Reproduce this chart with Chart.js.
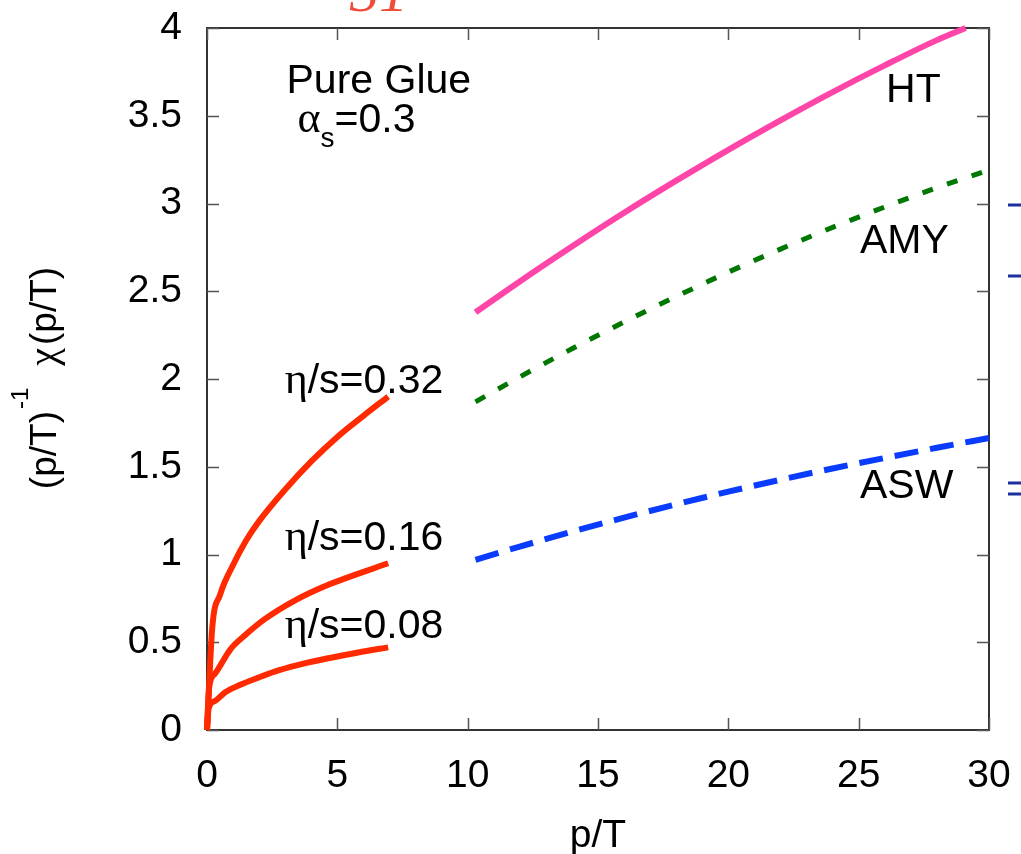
<!DOCTYPE html>
<html>
<head>
<meta charset="utf-8">
<script src="https://cdn.jsdelivr.net/npm/chart.js@4.4.1/dist/chart.umd.min.js"></script>
<style>
  html, body { margin: 0; padding: 0; background: #fff; }
  #wrap { width: 1021px; height: 854px; }
</style>
</head>
<body>
<div id="wrap"><canvas id="chart" width="1021" height="854"></canvas></div>
<script>
// axis ticks
const xTicks = [0, 5, 10, 15, 20, 25, 30];
const yTicks = [0, 0.5, 1, 1.5, 2, 2.5, 3, 3.5, 4];
const yTickLabels = ['0', '0.5', '1', '1.5', '2', '2.5', '3', '3.5', '4'];

// eta/s curves (red)
const eta032X = [0, 0.2, 0.5, 1, 1.5, 2, 3, 4, 5, 6, 6.95];
const eta032Y = [0, 0.58, 0.77, 0.94, 1.08, 1.19, 1.37, 1.53, 1.67, 1.79, 1.90];
const eta016X = [0, 0.08, 0.3, 0.9, 1.5, 2.2, 3.4, 4.7, 6.95];
const eta016Y = [0, 0.24, 0.32, 0.46, 0.545, 0.63, 0.74, 0.83, 0.95];
const eta008X = [0, 0.06, 0.3, 0.7, 1.25, 2, 2.8, 3.7, 4.7, 5.8, 6.95];
const eta008Y = [0, 0.12, 0.165, 0.215, 0.256, 0.30, 0.342, 0.378, 0.41, 0.442, 0.471];

// HT, AMY, ASW
const htX  = [10.3, 12, 14, 16, 18, 20, 22, 24, 26, 28, 29.1];
const htY  = [2.38, 2.556, 2.755, 2.947, 3.130, 3.306, 3.474, 3.635, 3.787, 3.931, 4.00];
const amyX = [10.3, 12, 14, 16, 18, 20, 22, 24, 26, 28, 30];
const amyY = [1.87, 2.012, 2.172, 2.325, 2.470, 2.609, 2.740, 2.864, 2.980, 3.090, 3.191];
const aswX = [10.3, 12, 14, 16, 18, 20, 22, 24, 26, 28, 30];
const aswY = [0.97, 1.045, 1.13, 1.21, 1.286, 1.358, 1.426, 1.49, 1.55, 1.608, 1.664];

const SANS = '"Liberation Sans", Arial, Helvetica, sans-serif';
const SERIF = '"Liberation Serif", "Times New Roman", serif';

function pts(xs, ys) { return xs.map((x, i) => ({ x: x, y: ys[i] })); }

function curve(xs, ys, color, width, dash) {
  return {
    data: pts(xs, ys), showLine: true, pointRadius: 0, borderColor: color,
    borderWidth: width, borderDash: dash || [], fill: false,
    cubicInterpolationMode: 'monotone', clip: false, borderCapStyle: 'butt'
  };
}

// draw text made of pieces (sub/superscripts, greek in serif)
function rich(ctx, x, y, parts) {
  parts.forEach(p => {
    ctx.font = p.f;
    ctx.fillText(p.t, x, y + (p.dy || 0));
    x += ctx.measureText(p.t).width + (p.gap || 0);
  });
}
function richWidth(ctx, parts) {
  let w = 0;
  parts.forEach(p => { ctx.font = p.f; w += ctx.measureText(p.t).width + (p.gap || 0); });
  return w;
}

const decor = {
  id: 'decor',
  beforeDatasetsDraw(chart) {
    const { ctx, chartArea: a, scales: { x, y } } = chart;
    ctx.save();
    ctx.strokeStyle = '#333';
    ctx.lineWidth = 2;
    ctx.strokeRect(a.left, a.top, a.right - a.left, a.bottom - a.top);
    ctx.lineWidth = 1.5;
    ctx.strokeStyle = '#555';
    ctx.beginPath();
    xTicks.forEach(v => {
      const px = Math.round(x.getPixelForValue(v)) + 0.5;
      ctx.moveTo(px, a.bottom); ctx.lineTo(px, a.bottom - 12);
      ctx.moveTo(px, a.top); ctx.lineTo(px, a.top + 12);
    });
    yTicks.forEach(v => {
      const py = Math.round(y.getPixelForValue(v)) + 0.5;
      ctx.moveTo(a.left, py); ctx.lineTo(a.left + 12, py);
      ctx.moveTo(a.right, py); ctx.lineTo(a.right - 12, py);
    });
    ctx.stroke();
    ctx.restore();
  },
  afterDraw(chart) {
    const { ctx, chartArea: a, scales: { x, y } } = chart;
    const X = v => x.getPixelForValue(v), Y = v => y.getPixelForValue(v);
    ctx.save();
    ctx.fillStyle = '#000';
    ctx.textAlign = 'left';
    ctx.textBaseline = 'alphabetic';
    const f = '41px ' + SANS, g = '44px ' + SERIF;

    rich(ctx, X(3.05), Y(3.63), [{ t: 'Pure Glue', f: f }]);
    rich(ctx, X(3.47), Y(3.41), [{ t: 'α', f: g }, { t: 's', f: '28px ' + SANS, dy: 15 }, { t: '=0.3', f: f }]);
    rich(ctx, X(2.98), Y(1.92), [{ t: 'η', f: g }, { t: '/s=0.32', f: f }]);
    rich(ctx, X(2.98), Y(1.026), [{ t: 'η', f: g }, { t: '/s=0.16', f: f }]);
    rich(ctx, X(2.98), Y(0.524), [{ t: 'η', f: g }, { t: '/s=0.08', f: f }]);
    rich(ctx, X(26.05), Y(3.58), [{ t: 'HT', f: f }]);
    rich(ctx, X(25.05), Y(2.72), [{ t: 'AMY', f: f }]);
    rich(ctx, X(25.05), Y(1.32), [{ t: 'ASW', f: f }]);

    // x title
    ctx.font = '39px ' + SANS;
    ctx.textAlign = 'center';
    ctx.fillText('p/T', (a.left + a.right) / 2, 847);

    // y title, rotated
    ctx.textAlign = 'left';
    const yt = [
      { t: '(p/T)', f: '37px ' + SANS, gap: 2 },
      { t: '-1', f: '24px ' + SANS, dy: -28, gap: 22 },
      { t: 'χ', f: '40px ' + SERIF, gap: 3 },
      { t: '(p/T)', f: '37px ' + SANS }
    ];
    const w = richWidth(ctx, yt);
    ctx.translate(56, 378);
    ctx.rotate(-Math.PI / 2);
    rich(ctx, -w / 2, 0, yt);
    ctx.restore();

    // cut-off bits of the surrounding page
    ctx.save();
    ctx.fillStyle = '#f04c3c';
    ctx.font = 'italic 58px ' + SERIF;
    ctx.fillText('31', 350, 11);
    ctx.strokeStyle = '#1f2f9f';
    ctx.lineWidth = 3;
    ctx.beginPath();
    [205, 276, 483, 494].forEach(py => { ctx.moveTo(1008, py); ctx.lineTo(1021, py); });
    ctx.stroke();
    ctx.restore();
  }
};

new Chart(document.getElementById('chart').getContext('2d'), {
  type: 'scatter',
  data: {
    datasets: [
      curve(eta032X, eta032Y, '#ff2a00', 6),
      curve(eta016X, eta016Y, '#ff2a00', 6),
      curve(eta008X, eta008Y, '#ff2a00', 6),
      curve(htX, htY, '#ff45a8', 6),
      curve(amyX, amyY, '#007700', 5, [11, 15]),
      curve(aswX, aswY, '#0a3cff', 6, [24, 12])
    ]
  },
  options: {
    responsive: false,
    devicePixelRatio: 1,
    animation: false,
    layout: { padding: { top: 28, right: 32, left: 0, bottom: 0 } },
    plugins: { legend: { display: false }, tooltip: { enabled: false } },
    scales: {
      x: {
        type: 'linear', min: 0, max: 30,
        afterFit: s => { s.height = 124; s.paddingLeft = 0; s.paddingRight = 0; },
        afterBuildTicks: s => { s.ticks = xTicks.map(v => ({ value: v })); },
        grid: { display: false, drawTicks: false },
        border: { display: false },
        ticks: { color: '#000', padding: 23, maxRotation: 0, font: { family: SANS, size: 39 } }
      },
      y: {
        type: 'linear', min: 0, max: 4,
        afterFit: s => { s.width = 207; s.paddingTop = 0; s.paddingBottom = 0; },
        afterBuildTicks: s => { s.ticks = yTicks.map(v => ({ value: v })); },
        grid: { display: false, drawTicks: false },
        border: { display: false },
        ticks: {
          color: '#000', padding: 25, font: { family: SANS, size: 39 },
          callback: v => yTickLabels[yTicks.indexOf(v)]
        }
      }
    }
  },
  plugins: [decor]
});
</script>
</body>
</html>
